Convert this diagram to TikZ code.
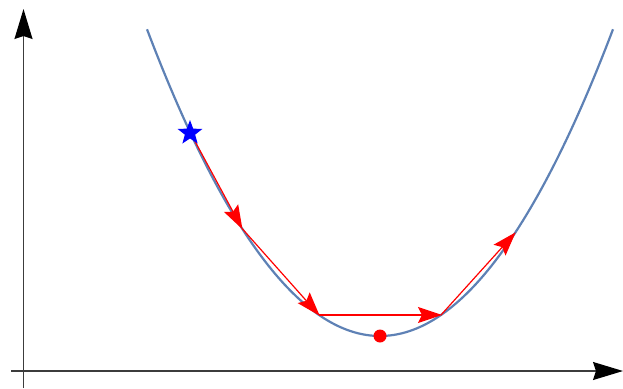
\documentclass[tikz,border=0pt]{standalone}
\usetikzlibrary{arrows.meta,shapes.geometric}
\definecolor{curveblue}{RGB}{94,129,181}
\definecolor{axisgray}{RGB}{60,60,60}
\tikzset{
  axisline/.style={draw=axisgray,line width=1.3pt,-{Stealth[length=30pt,width=18pt,inset=3pt,fill=black,color=black]}},
  steparrow/.style={draw=red,line width=1.2pt,-{Stealth[length=24pt,width=16pt,inset=4pt]},shorten >=-1pt},
  parab/.style={draw=curveblue,line width=2.2pt},
}
\pgfmathdeclarefunction{fpar}{1}{\pgfmathparse{336-0.565*((#1-380)/10)^2}}
\begin{document}
\begin{tikzpicture}[x=1pt,y=-1pt]
\useasboundingbox (0,0) rectangle (623,388);
% axes
\coordinate (xs) at (11,371);
\coordinate (xe) at (623,371);
\coordinate (ys) at (23.5,388);
\coordinate (ye) at (23.5,9);
\draw[axisline] (xs) -- (xe);
\draw[axisline] (ys) -- (ye);
% parabola
\draw[parab] plot[domain=147:613,samples=120] (\x,{fpar(\x)});
% points on the curve
\coordinate (p0) at (190,{fpar(190)});
\coordinate (p1) at (242,{fpar(242)});
\coordinate (p2) at (319,{fpar(319)});
\coordinate (p3) at (441,{fpar(441)});
\coordinate (p4) at (515,{fpar(515)});
\draw[steparrow] (p0) -- (p1);
\draw[steparrow] (p1) -- (p2);
\draw[steparrow] (p2) -- (p3);
\draw[steparrow] (p3) -- (p4);
\node[star,star points=5,star point ratio=2.4,minimum size=26pt,inner sep=0pt,fill=blue] (st) at (190,133) {};
\node[circle,fill=red,minimum size=13pt,inner sep=0pt] (mn) at (380,336) {};
\end{tikzpicture}
\end{document}
